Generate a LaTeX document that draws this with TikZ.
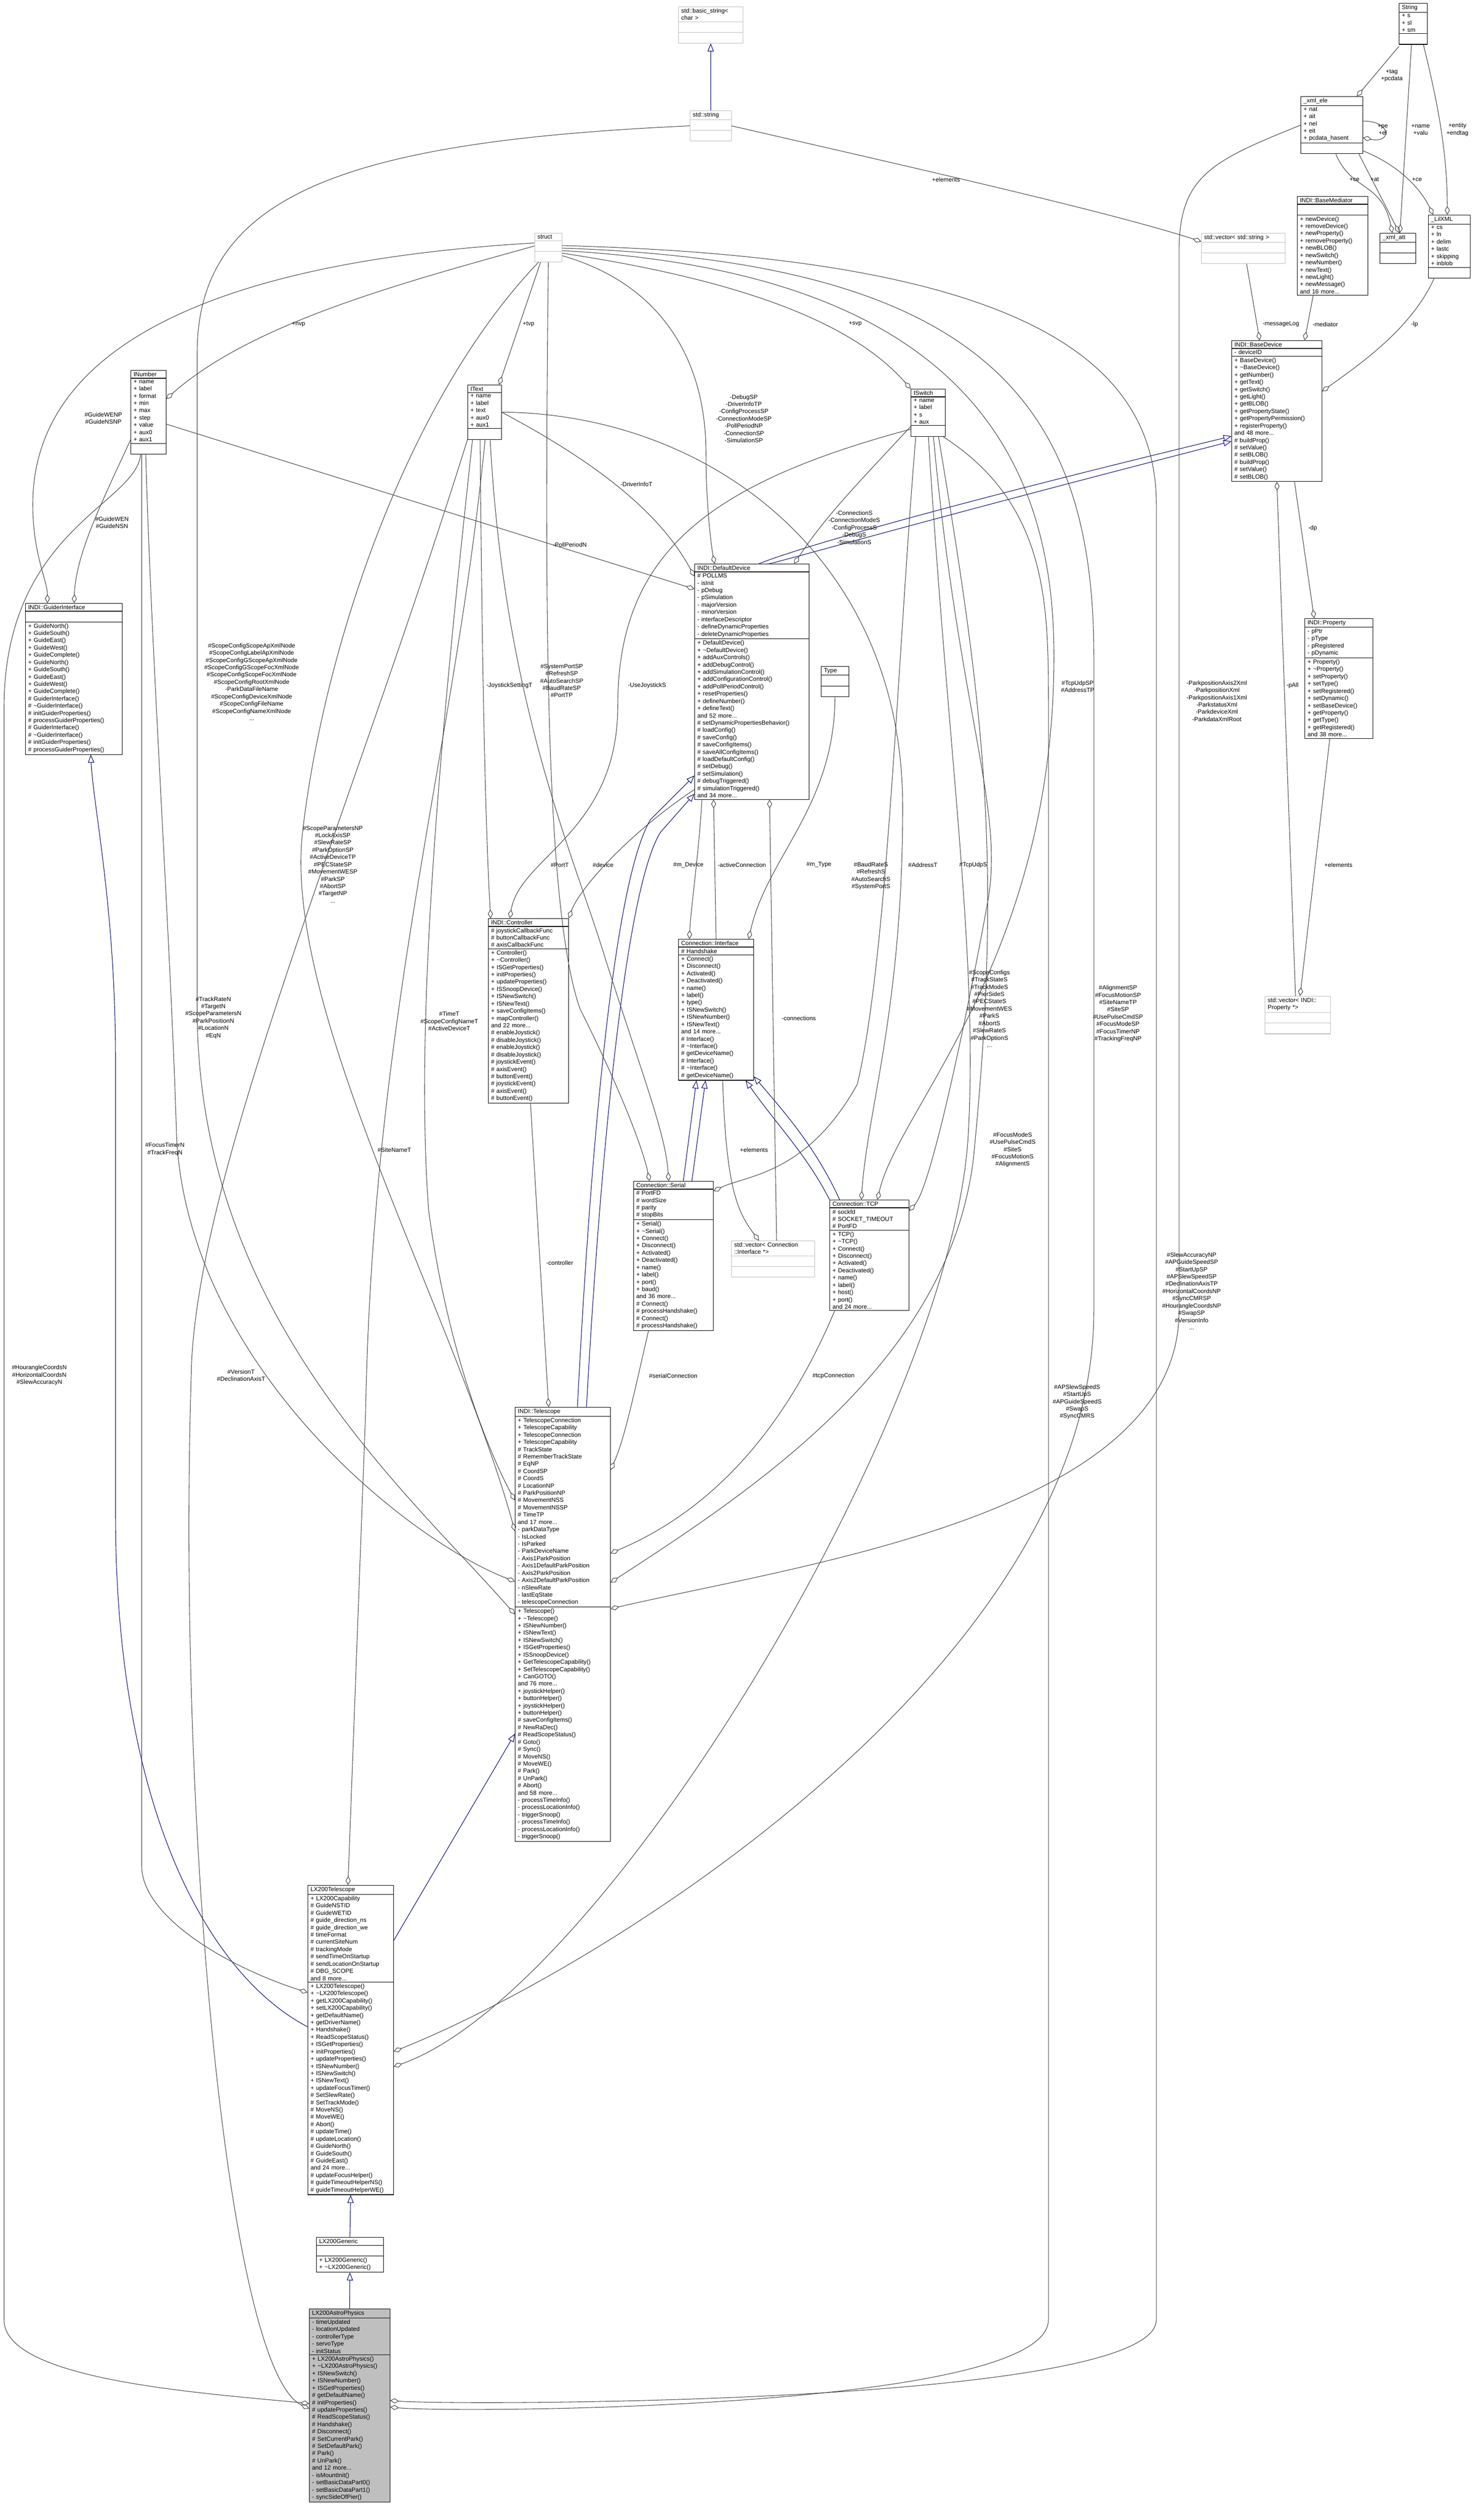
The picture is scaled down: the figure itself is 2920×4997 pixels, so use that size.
\documentclass[tikz,border=0pt]{standalone}
\usepackage{fontspec}
\setmainfont{Liberation Sans}
\usetikzlibrary{shapes.multipart,arrows.meta,calc}
\newcommand{\umlfont}{\fontsize{3.4}{4.1}\selectfont}
\tikzset{
  classbox/.style={rectangle split, rectangle split parts=3, draw=black, line width=0.3pt,
    font=\umlfont, inner xsep=1.5pt, inner ysep=0.8pt, anchor=north west,
    rectangle split part align={center,left,left}},
  stdbox/.style={classbox, draw=black!25},
  agg/.style={draw=black!75, line width=0.3pt, -{Diamond[open,length=5pt,width=2.8pt]}},
  inh/.style={draw=blue!45!black, line width=0.3pt, -{Triangle[open,length=4.5pt,width=3.5pt]}},
  lbl/.style={font=\umlfont, align=center, inner sep=0pt}
}
\begin{document}
\begin{tikzpicture}[x=0.01cm,y=-0.01cm]
\useasboundingbox (0,0) rectangle (2920,4997);

% standard library and plain structs
\node[stdbox,text width=1.17cm] (basicstring) at (1345,13) {std::basic\_string<\\ char >\nodepart{two}\strut\nodepart{three}\strut};
\node[stdbox,text width=0.71cm] (stdstring) at (1368,219) {std::string\nodepart{two}\strut\nodepart{three}\strut};
\node[stdbox,text width=0.43cm] (struct) at (1060,462) {struct\nodepart{two}\strut\nodepart{three}\strut};
\node[stdbox,text width=1.55cm] (vecstring) at (2382,462) {std::vector< std::string >\nodepart{two}\strut\nodepart{three}\strut};
\node[stdbox,text width=1.19cm] (vecproperty) at (2508,1975) {std::vector< INDI::\\Property *>\nodepart{two}\strut\nodepart{three}\strut};
\node[stdbox,text width=1.54cm] (veciface) at (1450,2460) {std::vector< Connection\\::Interface *>\nodepart{two}\strut\nodepart{three}\strut};

% lilxml
\node[classbox,text width=0.45cm] (String) at (2774,6) {String\nodepart{two}+ s\\+ sl\\+ sm\nodepart{three}\strut};
\node[classbox,text width=1.12cm] (xmlele) at (2579,191) {\_xml\_ele\nodepart{two}+ nat\\+ ait\\+ nel\\+ eit\\+ pcdata\_hasent\nodepart{three}\strut};
\node[classbox,text width=0.60cm] (xmlatt) at (2736,462) {\_xml\_att\nodepart{two}\strut\nodepart{three}\strut};
\node[classbox,text width=0.72cm] (LilXML) at (2832,426) {\_LilXML\nodepart{two}+ cs\\+ ln\\+ delim\\+ lastc\\+ skipping\\+ inblob\nodepart{three}\strut};
\node[classbox,text width=1.29cm] (BaseMediator) at (2572,389) {INDI::BaseMediator\nodepart{two}\strut\nodepart{three}+ newDevice()\\+ removeDevice()\\+ newProperty()\\+ removeProperty()\\+ newBLOB()\\+ newSwitch()\\+ newNumber()\\+ newText()\\+ newLight()\\+ newMessage()\\and 16 more...};
\node[classbox,text width=1.68cm] (BaseDevice) at (2442,675) {INDI::BaseDevice\nodepart{two}- deviceID\nodepart{three}+ BaseDevice()\\+ \textasciitilde BaseDevice()\\+ getNumber()\\+ getText()\\+ getSwitch()\\+ getLight()\\+ getBLOB()\\+ getPropertyState()\\+ getPropertyPermission()\\+ registerProperty()\\and 48 more...\\\# buildProp()\\\# setValue()\\\# setBLOB()\\\# buildProp()\\\# setValue()\\\# setBLOB()};
\node[classbox,text width=1.24cm] (Property) at (2587,1226) {INDI::Property\nodepart{two}- pPtr\\- pType\\- pRegistered\\- pDynamic\nodepart{three}+ Property()\\+ \textasciitilde Property()\\+ setProperty()\\+ setType()\\+ setRegistered()\\+ setDynamic()\\+ setBaseDevice()\\+ getProperty()\\+ getType()\\+ getRegistered()\\and 38 more...};

% indi elements
\node[classbox,text width=0.59cm] (INumber) at (259,734) {INumber\nodepart{two}+ name\\+ label\\+ format\\+ min\\+ max\\+ step\\+ value\\+ aux0\\+ aux1\nodepart{three}\strut};
\node[classbox,text width=0.56cm] (IText) at (927,763) {IText\nodepart{two}+ name\\+ label\\+ text\\+ aux0\\+ aux1\nodepart{three}\strut};
\node[classbox,text width=0.57cm] (ISwitch) at (1806,771) {ISwitch\nodepart{two}+ name\\+ label\\+ s\\+ aux\nodepart{three}\strut};
\node[classbox,text width=0.44cm] (Type) at (1628,1321) {Type\nodepart{two}\strut\nodepart{three}\strut};

% device classes
\node[classbox,text width=1.81cm] (GuiderIface) at (50,1196) {INDI::GuiderInterface\nodepart{two}\strut\nodepart{three}+ GuideNorth()\\+ GuideSouth()\\+ GuideEast()\\+ GuideWest()\\+ GuideComplete()\\+ GuideNorth()\\+ GuideSouth()\\+ GuideEast()\\+ GuideWest()\\+ GuideComplete()\\\# GuiderInterface()\\\# \textasciitilde GuiderInterface()\\\# initGuiderProperties()\\\# processGuiderProperties()\\\# GuiderInterface()\\\# \textasciitilde GuiderInterface()\\\# initGuiderProperties()\\\# processGuiderProperties()};
\node[classbox,text width=2.16cm] (DefDevice) at (1377,1118) {INDI::DefaultDevice\nodepart{two}\# POLLMS\\- isInit\\- pDebug\\- pSimulation\\- majorVersion\\- minorVersion\\- interfaceDescriptor\\- defineDynamicProperties\\- deleteDynamicProperties\nodepart{three}+ DefaultDevice()\\+ \textasciitilde DefaultDevice()\\+ addAuxControls()\\+ addDebugControl()\\+ addSimulationControl()\\+ addConfigurationControl()\\+ addPollPeriodControl()\\+ resetProperties()\\+ defineNumber()\\+ defineText()\\and 52 more...\\\# setDynamicPropertiesBehavior()\\\# loadConfig()\\\# saveConfig()\\\# saveConfigItems()\\\# saveAllConfigItems()\\\# loadDefaultConfig()\\\# setDebug()\\\# setSimulation()\\\# debugTriggered()\\\# simulationTriggered()\\and 34 more...};
\node[classbox,text width=1.48cm] (Controller) at (968,1821) {INDI::Controller\nodepart{two}\# joystickCallbackFunc\\\# buttonCallbackFunc\\\# axisCallbackFunc\nodepart{three}+ Controller()\\+ \textasciitilde Controller()\\+ ISGetProperties()\\+ initProperties()\\+ updateProperties()\\+ ISSnoopDevice()\\+ ISNewSwitch()\\+ ISNewText()\\+ saveConfigItems()\\+ mapController()\\and 22 more...\\\# enableJoystick()\\\# disableJoystick()\\\# enableJoystick()\\\# disableJoystick()\\\# joystickEvent()\\\# axisEvent()\\\# buttonEvent()\\\# joystickEvent()\\\# axisEvent()\\\# buttonEvent()};
\node[classbox,text width=1.38cm] (Interface) at (1345,1862) {Connection::Interface\nodepart{two}\# Handshake\nodepart{three}+ Connect()\\+ Disconnect()\\+ Activated()\\+ Deactivated()\\+ name()\\+ label()\\+ type()\\+ ISNewSwitch()\\+ ISNewNumber()\\+ ISNewText()\\and 14 more...\\\# Interface()\\\# \textasciitilde Interface()\\\# getDeviceName()\\\# Interface()\\\# \textasciitilde Interface()\\\# getDeviceName()};
\node[classbox,text width=1.47cm] (Serial) at (1256,2342) {Connection::Serial\nodepart{two}\# PortFD\\\# wordSize\\\# parity\\\# stopBits\nodepart{three}+ Serial()\\+ \textasciitilde Serial()\\+ Connect()\\+ Disconnect()\\+ Activated()\\+ Deactivated()\\+ name()\\+ label()\\+ port()\\+ baud()\\and 36 more...\\\# Connect()\\\# processHandshake()\\\# Connect()\\\# processHandshake()};
\node[classbox,text width=1.46cm] (TCP) at (1645,2379) {Connection::TCP\nodepart{two}\# sockfd\\\# SOCKET\_TIMEOUT\\\# PortFD\nodepart{three}+ TCP()\\+ \textasciitilde TCP()\\+ Connect()\\+ Disconnect()\\+ Activated()\\+ Deactivated()\\+ name()\\+ label()\\+ host()\\+ port()\\and 24 more...};
\node[classbox,text width=1.78cm] (Telescope) at (1021,2790) {INDI::Telescope\nodepart{two}+ TelescopeConnection\\+ TelescopeCapability\\+ TelescopeConnection\\+ TelescopeCapability\\\# TrackState\\\# RememberTrackState\\\# EqNP\\\# CoordSP\\\# CoordS\\\# LocationNP\\\# ParkPositionNP\\\# MovementNSS\\\# MovementNSSP\\\# TimeTP\\and 17 more...\\- parkDataType\\- IsLocked\\- IsParked\\- ParkDeviceName\\- Axis1ParkPosition\\- Axis1DefaultParkPosition\\- Axis2ParkPosition\\- Axis2DefaultParkPosition\\- nSlewRate\\- lastEqState\\- telescopeConnection\nodepart{three}+ Telescope()\\+ \textasciitilde Telescope()\\+ ISNewNumber()\\+ ISNewText()\\+ ISNewSwitch()\\+ ISGetProperties()\\+ ISSnoopDevice()\\+ GetTelescopeCapability()\\+ SetTelescopeCapability()\\+ CanGOTO()\\and 76 more...\\+ joystickHelper()\\+ buttonHelper()\\+ joystickHelper()\\+ buttonHelper()\\\# saveConfigItems()\\\# NewRaDec()\\\# ReadScopeStatus()\\\# Goto()\\\# Sync()\\\# MoveNS()\\\# MoveWE()\\\# Park()\\\# UnPark()\\\# Abort()\\and 58 more...\\- processTimeInfo()\\- processLocationInfo()\\- triggerSnoop()\\- processTimeInfo()\\- processLocationInfo()\\- triggerSnoop()};
\node[classbox,text width=1.59cm] (LXTelescope) at (610,3738) {LX200Telescope\nodepart{two}+ LX200Capability\\\# GuideNSTID\\\# GuideWETID\\\# guide\_direction\_ns\\\# guide\_direction\_we\\\# timeFormat\\\# currentSiteNum\\\# trackingMode\\\# sendTimeOnStartup\\\# sendLocationOnStartup\\\# DBG\_SCOPE\\and 8 more...\nodepart{three}+ LX200Telescope()\\+ \textasciitilde LX200Telescope()\\+ getLX200Capability()\\+ setLX200Capability()\\+ getDefaultName()\\+ getDriverName()\\+ Handshake()\\+ ReadScopeStatus()\\+ ISGetProperties()\\+ initProperties()\\+ updateProperties()\\+ ISNewNumber()\\+ ISNewSwitch()\\+ ISNewText()\\+ updateFocusTimer()\\\# SetSlewRate()\\\# SetTrackMode()\\\# MoveNS()\\\# MoveWE()\\\# Abort()\\\# updateTime()\\\# updateLocation()\\\# GuideNorth()\\\# GuideSouth()\\\# GuideEast()\\and 24 more...\\\# updateFocusHelper()\\\# guideTimeoutHelperNS()\\\# guideTimeoutHelperWE()};
\node[classbox,text width=1.22cm] (LXGeneric) at (627,4436) {LX200Generic\nodepart{two}\strut\nodepart{three}+ LX200Generic()\\+ \textasciitilde LX200Generic()};
\node[classbox,text width=1.49cm,fill=black!25] (LXAstro) at (613,4578) {LX200AstroPhysics\nodepart{two}- timeUpdated\\- locationUpdated\\- controllerType\\- servoType\\- initStatus\nodepart{three}+ LX200AstroPhysics()\\+ \textasciitilde LX200AstroPhysics()\\+ ISNewSwitch()\\+ ISNewNumber()\\+ ISGetProperties()\\\# getDefaultName()\\\# initProperties()\\\# updateProperties()\\\# ReadScopeStatus()\\\# Handshake()\\\# Disconnect()\\\# SetCurrentPark()\\\# SetDefaultPark()\\\# Park()\\\# UnPark()\\and 12 more...\\- isMountInit()\\- setBasicDataPart0()\\- setBasicDataPart1()\\- syncSideOfPier()};

% inheritance
\draw[inh] (stdstring.north) -- (basicstring.south);
\draw[inh] (LXGeneric.north) -- (LXTelescope.south);
\draw[inh] (LXAstro.north) -- (LXGeneric.south);
\draw[inh] ($(LXTelescope.north west)+(0,281)$) .. controls (420,3920) and (229,3600) .. (229,3000) -- (229,2100) .. controls (229,1800) and (185,1600) .. ($(GuiderIface.south west)+(130,0)$);
\draw[inh] ($(LXTelescope.north east)+(0,110)$) -- ($(Telescope.north west)+(0,648)$);
\draw[inh] ($(Telescope.north west)+(124,0)$) .. controls (1170,2300) and (1215,1750) .. (1290,1625) -- ($(DefDevice.north west)+(0,420)$);
\draw[inh] ($(Telescope.north west)+(142,0)$) .. controls (1190,2300) and (1240,1760) .. (1310,1650) -- ($(DefDevice.north west)+(0,456)$);
\draw[inh] ($(DefDevice.north east)+(-100,0)$) .. controls (1560,1095) and (1800,1020) .. ($(BaseDevice.north west)+(0,190)$);
\draw[inh] ($(DefDevice.north east)+(-80,0)$) .. controls (1580,1105) and (1820,1035) .. ($(BaseDevice.north west)+(0,200)$);
\draw[inh] ($(Serial.north west)+(99,0)$) -- ($(Interface.south west)+(36,0)$);
\draw[inh] ($(Serial.north west)+(116,0)$) -- ($(Interface.south west)+(54,0)$);
\draw[inh] (TCP.north west) .. controls (1600,2290) and (1540,2230) .. ($(Interface.south east)+(-16,0)$);
\draw[inh] ($(TCP.north west)+(20,0)$) .. controls (1620,2280) and (1560,2210) .. ($(Interface.south east)+(0,-8)$);

% members: std and lilxml side
\draw[agg] (stdstring.east) .. controls (1800,330) and (2200,420) .. ($(vecstring.north west)+(0,17)$);
\node[lbl] (lelemstr) at (1876,356) {+elements};
\draw[agg] ($(String.north west)+(0,86)$) -- ($(xmlele.north east)+(-12,0)$);
\node[lbl] (ltag) at (2760,150) {+tag\\+pcdata};
\draw[agg] ($(String.south west)+(25,0)$) -- ($(xmlatt.north west)+(40,0)$);
\node[lbl] (lname) at (2817,257) {+name\\+valu};
\draw[agg] ($(String.south east)+(-8,0)$) .. controls (2850,200) and (2870,300) .. ($(LilXML.north west)+(38,0)$);
\node[lbl] (lentity) at (2890,257) {+entity\\+endtag};
\draw[agg] ($(xmlele.north east)+(0,49)$) .. controls (2760,240) and (2760,285) .. ($(xmlele.north east)+(0,82)$);
\node[lbl] (lpe) at (2742,257) {+pe\\+el};
\draw[agg] ($(xmlele.south west)+(70,0)$) .. controls (2680,380) and (2740,360) .. ($(xmlatt.north west)+(25,0)$);
\node[lbl] (lce) at (2686,356) {+ce};
\draw[agg] ($(xmlele.south east)+(-8,0)$) -- ($(xmlatt.north west)+(39,0)$);
\node[lbl] (lat) at (2726,356) {+at};
\draw[agg] ($(xmlele.north east)+(0,108)$) .. controls (2780,330) and (2820,380) .. ($(LilXML.north west)+(10,0)$);
\node[lbl] (lce2) at (2810,356) {+ce};
\draw[agg] ($(vecstring.south west)+(90,0)$) -- ($(BaseDevice.north west)+(56,0)$);
\node[lbl] (lmsg) at (2540,643) {-messageLog};
\draw[agg] ($(BaseMediator.south west)+(32,0)$) -- ($(BaseDevice.north west)+(145,0)$);
\node[lbl] (lmed) at (2628,643) {-mediator};
\draw[agg] ($(LilXML.south west)+(12,0)$) .. controls (2800,650) and (2700,720) .. ($(BaseDevice.north east)+(0,101)$);
\node[lbl] (llp) at (2805,643) {-lp};
\draw[agg] ($(BaseDevice.south west)+(125,0)$) -- ($(Property.north west)+(19,0)$);
\node[lbl] (ldp) at (2603,1047) {-dp};
\draw[agg] ($(vecproperty.north west)+(61,0)$) -- ($(BaseDevice.south west)+(90,0)$);
\node[lbl] (lpall) at (2563,1359) {-pAll};
\draw[agg] ($(Property.south west)+(50,0)$) -- ($(vecproperty.north west)+(70,0)$);
\node[lbl] (lelemprop) at (2654,1715) {+elements};

% members: struct and elements
\draw[agg] ($(struct.south west)+(0,-32)$) .. controls (800,560) and (500,640) .. ($(INumber.north east)+(0,57)$);
\node[lbl] (lnvp) at (592,643) {+nvp};
\draw[agg] ($(struct.south west)+(12,0)$) -- ($(IText.north east)+(-5,0)$);
\node[lbl] (ltvp) at (1048,643) {+tvp};
\draw[agg] ($(struct.north east)+(0,40)$) .. controls (1500,560) and (1700,650) .. (ISwitch.north west);
\node[lbl] (lsvp) at (1696,642) {+svp};
\draw[agg] ($(struct.south west)+(0,-38)$) .. controls (400,520) and (65,700) .. (65,1000) .. controls (65,1100) and (94,1150) .. ($(GuiderIface.north west)+(44,0)$);
\node[lbl] (lguidenp) at (205,829) {\#GuideWENP\\\#GuideNSNP};
\draw[agg] ($(INumber.north west)+(0,138)$) .. controls (200,1000) and (150,1100) .. ($(GuiderIface.north west)+(97,0)$);
\node[lbl] (lguiden) at (222,1036) {\#GuideWEN\\\#GuideNSN};
\draw[agg] ($(INumber.south west)+(20,0)$) .. controls (270,1000) and (10,1050) .. (8,1400) -- (8,4600) .. controls (8,4720) and (400,4745) .. ($(LXAstro.north west)+(0,188)$);
\node[lbl] (lhour) at (78,2727) {\#HourangleCoordsN\\\#HorizontalCoordsN\\\#SlewAccuracyN};
\draw[agg] ($(INumber.south west)+(30,0)$) .. controls (300,1300) and (340,1900) .. (350,2250) .. controls (370,2700) and (800,3050) .. ($(Telescope.north west)+(0,346)$);
\node[lbl] (ltrackrate) at (423,2018) {\#TrackRateN\\\#TargetN\\\#ScopeParametersN\\\#ParkPositionN\\\#LocationN\\\#EqN};
\draw[agg] ($(INumber.south west)+(22,0)$) .. controls (281,1100) and (281,1300) .. (281,1500) -- (281,3700) .. controls (281,3800) and (450,3900) .. ($(LXTelescope.north west)+(0,213)$);
\node[lbl] (lfocustimer) at (327,2279) {\#FocusTimerN\\\#TrackFreqN};
\draw[agg] ($(INumber.north east)+(0,107)$) -- ($(DefDevice.north west)+(0,50)$);
\node[lbl] (lpollperiod) at (1130,1080) {-PollPeriodN};
\draw[agg] (IText.east) .. controls (1150,900) and (1300,1000) .. ($(DefDevice.north west)+(0,25)$);
\node[lbl] (ldriverinfo) at (1262,960) {-DriverInfoT};
\draw[agg] ($(struct.north east)+(0,45)$) .. controls (1300,560) and (1400,700) .. (1400,900) .. controls (1400,1000) and (1410,1080) .. ($(DefDevice.north west)+(40,0)$);
\node[lbl] (ldebugsp) at (1475,830) {-DebugSP\\-DriverInfoTP\\-ConfigProcessSP\\-ConnectionModeSP\\-PollPeriodNP\\-ConnectionSP\\-SimulationSP};
\draw[agg] ($(ISwitch.south west)+(0,-20)$) .. controls (1700,960) and (1640,1020) .. ($(DefDevice.north east)+(-30,0)$);
\node[lbl] (lconns) at (1694,1046) {-ConnectionS\\-ConnectionModeS\\-ConfigProcessS\\-DebugS\\-SimulationS};
\draw[agg] ($(IText.south west)+(25,0)$) .. controls (955,1200) and (960,1600) .. ($(Controller.north west)+(5,0)$);
\node[lbl] (ljoysetting) at (1010,1359) {-JoystickSettingT};
\draw[agg] ($(ISwitch.north west)+(0,80)$) .. controls (1400,960) and (1225,1100) .. (1225,1400) .. controls (1225,1650) and (1030,1700) .. ($(Controller.north west)+(43,0)$);
\node[lbl] (lusejoy) at (1283,1359) {-UseJoystickS};
\draw[agg] ($(DefDevice.south west)+(0,-20)$) .. controls (1250,1650) and (1150,1760) .. (Controller.north east);
\node[lbl] (ldevice) at (1196,1715) {\#device};
\draw[agg] (struct.south) .. controls (1080,1200) and (1080,1800) .. (1150,2000) .. controls (1250,2200) and (1280,2300) .. ($(Serial.north west)+(32,0)$);
\node[lbl] (lsysport) at (1114,1350) {\#SystemPortSP\\\#RefreshSP\\\#AutoSearchSP\\\#BaudRateSP\\\#PortTP};
\draw[agg] ($(IText.south west)+(45,0)$) .. controls (1000,1400) and (1140,1700) .. (1200,1900) .. controls (1280,2150) and (1320,2250) .. ($(Serial.north west)+(70,0)$);
\node[lbl] (lportt) at (1110,1715) {\#PortT};
\draw[agg] ($(DefDevice.south west)+(15,0)$) .. controls (1385,1700) and (1370,1800) .. ($(Interface.north west)+(22,0)$);
\node[lbl] (lmdevice) at (1365,1715) {\#m\_Device};
\draw[agg] ($(Interface.north west)+(75,0)$) -- ($(DefDevice.south west)+(38,0)$);
\node[lbl] (lactive) at (1471,1715) {-activeConnection};
\draw[agg] (Type.south) .. controls (1655,1600) and (1520,1700) .. ($(Interface.north east)+(-10,0)$);
\node[lbl] (lmtype) at (1624,1715) {\#m\_Type};
\draw[agg] ($(veciface.north west)+(90,0)$) -- ($(DefDevice.south west)+(149,0)$);
\node[lbl] (lconnections) at (1584,2019) {-connections};
\draw[agg] ($(Interface.south west)+(88,0)$) .. controls (1440,2350) and (1460,2400) .. ($(veciface.north west)+(55,0)$);
\node[lbl] (lelemiface) at (1495,2280) {+elements};
\draw[agg] ($(ISwitch.south west)+(10,0)$) .. controls (1780,1300) and (1760,1900) .. (1700,2150) .. controls (1600,2330) and (1480,2330) .. ($(Serial.north east)+(0,20)$);
\node[lbl] (lbaud) at (1727,1737) {\#BaudRateS\\\#RefreshS\\\#AutoSearchS\\\#SystemPortS};
\draw[agg] (IText.east) .. controls (1400,820) and (1790,1100) .. (1790,1600) .. controls (1790,2000) and (1720,2200) .. ($(TCP.north west)+(63,0)$);
\node[lbl] (laddress) at (1830,1715) {\#AddressT};
\draw[agg] ($(struct.north east)+(0,35)$) .. controls (1900,540) and (2090,900) .. (2090,1300) .. controls (2090,1900) and (1780,2200) .. ($(TCP.north west)+(95,0)$);
\node[lbl] (ltcpudpsp) at (2137,1361) {\#TcpUdpSP\\\#AddressTP};
\draw[agg] ($(ISwitch.south west)+(45,0)$) .. controls (1900,1400) and (1990,1600) .. (1960,1780) .. controls (1930,1950) and (1850,2350) .. ($(TCP.north east)+(0,22)$);
\node[lbl] (ltcpudps) at (1930,1715) {\#TcpUdpS};
\draw[agg] ($(Controller.south west)+(84,0)$) -- ($(Telescope.north west)+(67,0)$);
\node[lbl] (lcontroller) at (1110,2504) {-controller};
\draw[agg] ($(Serial.south west)+(30,0)$) .. controls (1260,2750) and (1240,2850) .. ($(Telescope.north east)+(0,125)$);
\node[lbl] (lserial) at (1335,2728) {\#serialConnection};
\draw[agg] ($(TCP.south west)+(10,0)$) .. controls (1550,2850) and (1400,3000) .. ($(Telescope.north east)+(0,290)$);
\node[lbl] (ltcp) at (1653,2728) {\#tcpConnection};
\draw[agg] ($(ISwitch.south west)+(55,0)$) .. controls (1950,1400) and (1990,1700) .. (1930,2300) .. controls (1880,2700) and (1500,2950) .. ($(Telescope.north east)+(0,348)$);
\node[lbl] (lscopeconfigs) at (1962,2000) {\#ScopeConfigs\\\#TrackStateS\\\#TrackModeS\\\#PierSideS\\\#PECStateS\\\#MovementWES\\\#ParkS\\\#AbortS\\\#SlewRateS\\\#ParkOptionS\\...};
\draw[agg] (xmlele.west) .. controls (2400,320) and (2338,350) .. (2338,500) -- (2338,2600) .. controls (2338,3000) and (1600,3100) .. ($(Telescope.north east)+(0,400)$);
\node[lbl] (lparkpos) at (2413,1390) {-ParkpositionAxis2Xml\\-ParkpositionXml\\-ParkpositionAxis1Xml\\-ParkstatusXml\\-ParkdeviceXml\\-ParkdataXmlRoot};
\draw[agg] ($(struct.south west)+(8,0)$) .. controls (800,800) and (640,1300) .. (600,1650) .. controls (560,2000) and (900,2600) .. ($(Telescope.north west)+(0,246)$);
\node[lbl] (lscopeparams) at (660,1714) {\#ScopeParametersNP\\\#LockAxisSP\\\#SlewRateSP\\\#ParkOptionSP\\\#ActiveDeviceTP\\\#PECStateSP\\\#MovementWESP\\\#ParkSP\\\#AbortSP\\\#TargetNP\\...};
\draw[agg] ($(IText.south west)+(10,0)$) .. controls (880,1400) and (820,2000) .. (850,2400) .. controls (890,2700) and (980,2900) .. ($(Telescope.north west)+(0,185)$);
\node[lbl] (ltimet) at (891,2025) {\#TimeT\\\#ScopeConfigNameT\\\#ActiveDeviceT};
\draw[agg] (stdstring.west) .. controls (700,280) and (391,380) .. (391,700) -- (391,2000) .. controls (391,2600) and (800,2950) .. ($(Telescope.north west)+(0,411)$);
\node[lbl] (lscopexml) at (499,1352) {\#ScopeConfigScopeApXmlNode\\\#ScopeConfigLabelApXmlNode\\\#ScopeConfigGScopeApXmlNode\\\#ScopeConfigGScopeFocXmlNode\\\#ScopeConfigScopeFocXmlNode\\\#ScopeConfigRootXmlNode\\-ParkDataFileName\\\#ScopeConfigDeviceXmlNode\\\#ScopeConfigFileName\\\#ScopeConfigNameXmlNode\\...};
\draw[agg] ($(IText.south west)+(35,0)$) .. controls (900,1500) and (740,2000) .. (725,2800) -- ($(LXTelescope.north west)+(80,0)$);
\node[lbl] (lsitename) at (782,2280) {\#SiteNameT};
\draw[agg] ($(struct.north east)+(0,30)$) .. controls (1950,520) and (2169,800) .. (2169,1300) -- (2169,2600) .. controls (2169,3300) and (1200,3900) .. ($(LXTelescope.north east)+(0,330)$);
\node[lbl] (lalign) at (2217,2010) {\#AlignmentSP\\\#FocusMotionSP\\\#SiteNameTP\\\#SiteSP\\\#UsePulseCmdSP\\\#FocusModeSP\\\#FocusTimerNP\\\#TrackingFreqNP};
\draw[agg] ($(ISwitch.south west)+(35,0)$) .. controls (1880,1500) and (1940,1900) .. (1920,2250) .. controls (1890,2800) and (1200,3950) .. ($(LXTelescope.north east)+(0,360)$);
\node[lbl] (lfocusmode) at (2008,2280) {\#FocusModeS\\\#UsePulseCmdS\\\#SiteS\\\#FocusMotionS\\\#AlignmentS};
\draw[agg] (IText.south west) .. controls (700,1600) and (400,2300) .. (380,2700) .. controls (350,3600) and (450,4700) .. ($(LXAstro.north west)+(0,198)$);
\node[lbl] (lversion) at (478,2727) {\#VersionT\\\#DeclinationAxisT};
\draw[agg] ($(struct.north east)+(0,25)$) .. controls (2000,510) and (2293,700) .. (2293,1000) -- (2293,4600) .. controls (2293,4770) and (900,4770) .. ($(LXAstro.north east)+(0,182)$);
\node[lbl] (lslewacc) at (2363,2560) {\#SlewAccuracyNP\\\#APGuideSpeedSP\\\#StartUpSP\\\#APSlewSpeedSP\\\#DeclinationAxisTP\\\#HorizontalCoordsNP\\\#SyncCMRSP\\\#HourangleCoordsNP\\\#SwapSP\\\#VersionInfo\\...};
\draw[agg] ($(ISwitch.south east)+(-5,0)$) .. controls (2079,1000) and (2079,1200) .. (2079,1400) -- (2079,4600) .. controls (2079,4780) and (900,4785) .. ($(LXAstro.north east)+(0,195)$);
\node[lbl] (lapslew) at (2136,2780) {\#APSlewSpeedS\\\#StartUpS\\\#APGuideSpeedS\\\#SwapS\\\#SyncCMRS};
\end{tikzpicture}
\end{document}
